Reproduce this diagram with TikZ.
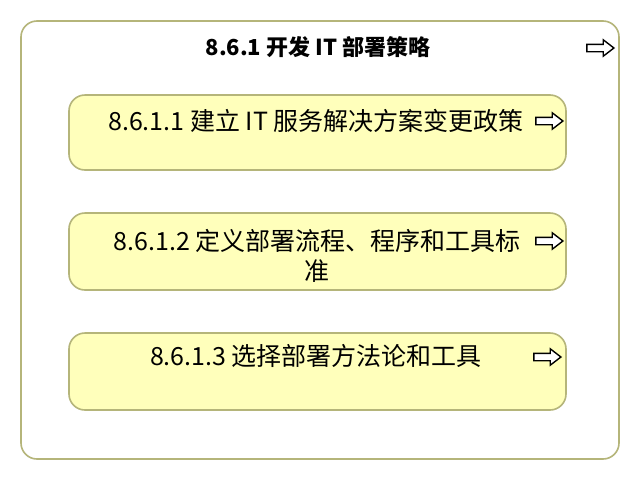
\documentclass[tikz,border=0pt]{standalone}
\usepackage{fontspec}
\setmainfont{Noto Sans CJK SC}
\usetikzlibrary{shapes.arrows}
\definecolor{rimcolor}{HTML}{B5B57A}
\definecolor{taskfill}{HTML}{FFFFBB}
\tikzset{
    phasebox/.style={draw=rimcolor, line width=1.6pt, fill=white, rounded corners=16pt},
    taskbox/.style={draw=rimcolor, line width=1.6pt, fill=taskfill, rounded corners=16pt},
    tasktext/.style={anchor=north, align=center, inner sep=0pt, font=\fontsize{25}{30}\selectfont},
    goicon/.style={single arrow, draw=black, fill=white, line width=1.4pt, inner sep=3pt,
        minimum height=27pt, single arrow head extend=4.5pt, single arrow head indent=0pt,
        single arrow tip angle=75}
}
\begin{document}
\begin{tikzpicture}[x=1pt, y=-1pt]
            \useasboundingbox[fill=white] (0,0) rectangle (640,480);
            \draw[phasebox] (21,21) rectangle (619,459);
            \node[tasktext, font=\fontsize{22}{30}\selectfont\bfseries] at (318,36) (phase) {8.6.1 开发 IT 部署策略};
            \node[goicon] at (598,48) (phasego) {};
            %
            \draw[taskbox] (69,95) rectangle (566,170);
            \node[tasktext] at (316,109.5) (policy) {8.6.1.1 建立 IT 服务解决方案变更政策};
            \node[goicon] at (547,121) (policygo) {};
            %
            \draw[taskbox] (69,213) rectangle (566,290);
            \node[tasktext] at (317,229.5) (standard) {8.6.1.2 定义部署流程、程序和工具标\\准};
            \node[goicon] at (547,241) (standardgo) {};
            %
            \draw[taskbox] (69,333) rectangle (566,410);
            \node[tasktext] at (316,344.5) (method) {8.6.1.3 选择部署方法论和工具};
            \node[goicon] at (545,357) (methodgo) {};
        \end{tikzpicture}
\end{document}
